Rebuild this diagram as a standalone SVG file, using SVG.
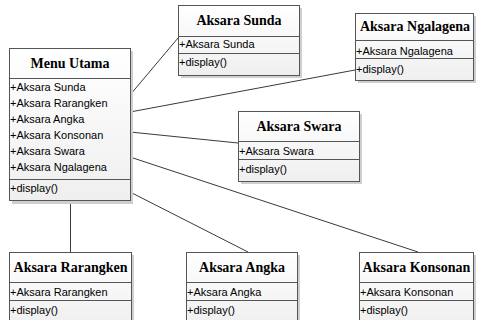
<svg xmlns="http://www.w3.org/2000/svg" width="477" height="320" viewBox="0 0 477 320">
  <defs>
    <linearGradient id="boxFill" x1="0" y1="0" x2="0" y2="1">
      <stop offset="0" stop-color="#ffffff"/>
      <stop offset="1" stop-color="#efefef"/>
    </linearGradient>
    <style>
      .shadow { fill: #cfcfcf; }
      .box { fill: url(#boxFill); stroke: #555555; stroke-width: 1; }
      .sep { stroke: #555555; stroke-width: 1; }
      .title { font-family: "Liberation Serif", "Times New Roman", serif; font-weight: bold; font-size: 14px; fill: #000; text-anchor: middle; }
      .item { font-family: "Liberation Sans", Arial, sans-serif; font-size: 11px; fill: #000; }
      .conn { stroke: #3a3a3a; stroke-width: 1; fill: none; }
    </style>
  </defs>
  <rect width="477" height="320" fill="#ffffff"/>

  <g id="connectors">
    <line class="conn" x1="130" y1="95" x2="178" y2="38"/>
    <line class="conn" x1="130" y1="112" x2="355" y2="70"/>
    <line class="conn" x1="130" y1="132" x2="238" y2="143"/>
    <line class="conn" x1="130" y1="157" x2="418" y2="252"/>
    <line class="conn" x1="130" y1="192" x2="248" y2="252"/>
    <line class="conn" x1="70.5" y1="201" x2="70.5" y2="252"/>
  </g>

  <g id="menu-utama">
    <rect class="shadow" x="12" y="51" width="121" height="153"/>
    <rect class="box" x="9.5" y="48.5" width="121" height="152"/>
    <line class="sep" x1="9.5" y1="78.5" x2="130.5" y2="78.5"/>
    <line class="sep" x1="9.5" y1="179.5" x2="130.5" y2="179.5"/>
    <text class="title" x="70" y="68">Menu Utama</text>
    <text class="item" x="10" y="91">+Aksara Sunda</text>
    <text class="item" x="10" y="107">+Aksara Rarangken</text>
    <text class="item" x="10" y="123">+Aksara Angka</text>
    <text class="item" x="10" y="139">+Aksara Konsonan</text>
    <text class="item" x="10" y="155">+Aksara Swara</text>
    <text class="item" x="10" y="171">+Aksara Ngalagena</text>
    <text class="item" x="10" y="192">+display()</text>
  </g>

  <g id="aksara-sunda">
    <rect class="shadow" x="181" y="8" width="121" height="70"/>
    <rect class="box" x="178.5" y="5.5" width="121" height="70"/>
    <line class="sep" x1="178.5" y1="36.5" x2="299.5" y2="36.5"/>
    <line class="sep" x1="178.5" y1="53.5" x2="299.5" y2="53.5"/>
    <text class="title" x="239" y="25">Aksara Sunda</text>
    <text class="item" x="179" y="48">+Aksara Sunda</text>
    <text class="item" x="179" y="66">+display()</text>
  </g>

  <g id="aksara-ngalagena">
    <rect class="shadow" x="358" y="16" width="118" height="67"/>
    <rect class="box" x="355.5" y="13.5" width="118" height="67"/>
    <line class="sep" x1="355.5" y1="40.5" x2="473.5" y2="40.5"/>
    <line class="sep" x1="355.5" y1="58.5" x2="473.5" y2="58.5"/>
    <text class="title" x="415" y="31">Aksara Ngalagena</text>
    <text class="item" x="356" y="55">+Aksara Ngalagena</text>
    <text class="item" x="356" y="73">+display()</text>
  </g>

  <g id="aksara-swara">
    <rect class="shadow" x="241" y="114" width="121" height="70"/>
    <rect class="box" x="238.5" y="111.5" width="121" height="70"/>
    <line class="sep" x1="238.5" y1="141.5" x2="359.5" y2="141.5"/>
    <line class="sep" x1="238.5" y1="159.5" x2="359.5" y2="159.5"/>
    <text class="title" x="299" y="131">Aksara Swara</text>
    <text class="item" x="239" y="155">+Aksara Swara</text>
    <text class="item" x="239" y="173">+display()</text>
  </g>

  <g id="aksara-rarangken">
    <rect class="shadow" x="12" y="255" width="122" height="75"/>
    <rect class="box" x="9.5" y="252.5" width="122" height="75"/>
    <line class="sep" x1="9.5" y1="282.5" x2="131.5" y2="282.5"/>
    <line class="sep" x1="9.5" y1="300.5" x2="131.5" y2="300.5"/>
    <text class="title" x="70.5" y="272">Aksara Rarangken</text>
    <text class="item" x="10" y="296">+Aksara Rarangken</text>
    <text class="item" x="10" y="314">+display()</text>
  </g>

  <g id="aksara-angka">
    <rect class="shadow" x="189" y="255" width="111" height="75"/>
    <rect class="box" x="186.5" y="252.5" width="111" height="75"/>
    <line class="sep" x1="186.5" y1="282.5" x2="297.5" y2="282.5"/>
    <line class="sep" x1="186.5" y1="300.5" x2="297.5" y2="300.5"/>
    <text class="title" x="242" y="272">Aksara Angka</text>
    <text class="item" x="187" y="296">+Aksara Angka</text>
    <text class="item" x="187" y="314">+display()</text>
  </g>

  <g id="aksara-konsonan">
    <rect class="shadow" x="362" y="255" width="114" height="75"/>
    <rect class="box" x="359.5" y="252.5" width="114" height="75"/>
    <line class="sep" x1="359.5" y1="282.5" x2="473.5" y2="282.5"/>
    <line class="sep" x1="359.5" y1="300.5" x2="473.5" y2="300.5"/>
    <text class="title" x="416.5" y="272">Aksara Konsonan</text>
    <text class="item" x="360" y="296">+Aksara Konsonan</text>
    <text class="item" x="360" y="314">+display()</text>
  </g>
</svg>
